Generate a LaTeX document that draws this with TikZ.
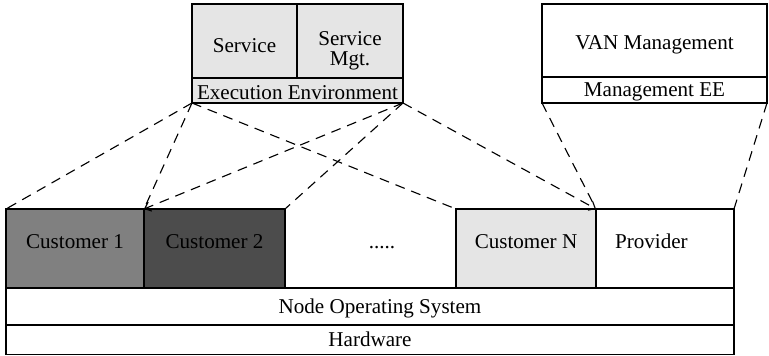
\documentclass[tikz,border=0pt]{standalone}
\usepackage{fontspec}
\setmainfont{Liberation Serif}
\usetikzlibrary{
    arrows.meta,
    positioning
}
\definecolor{lightgrey}{gray}{0.9}
\definecolor{midgrey}{gray}{0.5}
\definecolor{darkgrey}{gray}{0.3}
\tikzset{
    every picture/.style = {
        > = {Straight Barb[length = 4pt, width = 7pt]},
        line width = 0.8pt,
        font = \fontsize{15}{14.5}\selectfont
    },
    box/.style = {
        draw,
        rectangle,
        inner sep = 1pt,
        outer sep = 0pt,
        anchor = north west,
        align = center
    },
    custbox/.style = {
        box,
        minimum height = 1.975cm,
        text depth = 0.35cm
    },
    link/.style = {
        dash pattern = on 7pt off 5pt
    }
}

\begin{document}
\begin{tikzpicture}
    \useasboundingbox (0, 0) rectangle (19.225, 8.9);

    \node[box, fill = lightgrey, minimum width = 2.625cm, minimum height = 1.85cm, text height = 0.6cm] (svc) at (4.8, 8.8) {Service};
    \node[box, fill = lightgrey, minimum width = 2.65cm, minimum height = 1.85cm, text height = 1.3cm, text depth = 0.05cm] (svcmgt) at (svc.north east) {Service\\Mgt.};
    \node[box, fill = lightgrey, minimum width = 5.275cm, minimum height = 0.625cm, text height = 0.45cm, text depth = 0cm] (ee) at (svc.south west) {Execution Environment};

    \node[box, minimum width = 5.625cm, minimum height = 1.825cm, text height = 0.54cm] (van) at (13.55, 8.8) {VAN Management};
    \node[box, minimum width = 5.625cm, minimum height = 0.65cm, text height = 0.4cm, text depth = 0.05cm] (mee) at (van.south west) {Management EE};

    \node[custbox, fill = midgrey, minimum width = 3.45cm] (cust1) at (0.15, 3.675) {Customer 1};
    \node[custbox, fill = darkgrey, minimum width = 3.525cm] (cust2) at (cust1.north east) {Customer 2};
    \node (dots) at (9.55, 2.7) {.....};
    \node[custbox, fill = lightgrey, minimum width = 3.5cm] (custn) at (11.4, 3.675) {Customer N};
    \node[custbox, minimum width = 3.45cm] (prov) at (custn.north east) {Provider\hspace*{0.68cm}};

    \node[box, minimum width = 18.2cm, minimum height = 0.925cm, text height = 0.44cm] (nos) at (cust1.south west) {\hspace*{0.5cm}Node Operating System};
    \node[box, minimum width = 18.2cm, minimum height = 0.73cm] (hw) at (nos.south west) {Hardware};

    \draw[link] (ee.south west) -- (cust1.north west);
    \draw[link] (ee.south west) -- (cust2.north west);
    \draw[link] (ee.south west) -- (custn.north west);
    \draw[link, ->] (ee.south east) -- (cust2.north west);
    \draw[link] (ee.south east) -- (cust2.north east);
    \draw[link, ->] (ee.south east) -- (custn.north east);
    \draw[link] (mee.south west) -- (custn.north east);
    \draw[link] (mee.south east) -- (prov.north east);
\end{tikzpicture}
\end{document}
